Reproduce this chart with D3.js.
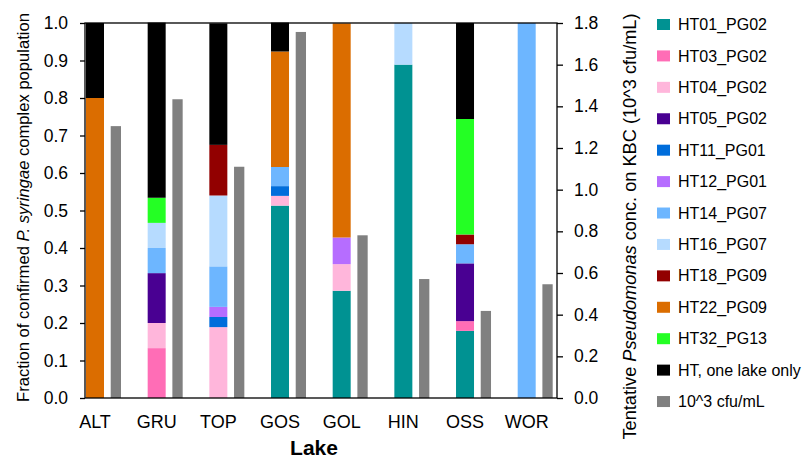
<!DOCTYPE html>
<html><head><meta charset="utf-8">
<script src="https://cdn.jsdelivr.net/npm/d3@7"></script>
<style>
html,body{margin:0;padding:0;background:#fff;}
svg{display:block;font-family:"Liberation Sans",Arial,sans-serif;}
</style></head>
<body>
<svg id="chart" width="806" height="459"></svg>
<script>
// ---- data ----
const lakes = ["ALT","GRU","TOP","GOS","GOL","HIN","OSS","WOR"];
const seriesNames = ["HT01_PG02","HT03_PG02","HT04_PG02","HT05_PG02","HT11_PG01","HT12_PG01","HT14_PG07","HT16_PG07","HT18_PG09","HT22_PG09","HT32_PG13","HT, one lake only"];
const seriesColors = ["#009292","#ff6db6","#ffb6db","#490092","#006ddb","#b66dff","#6db6ff","#b6dbff","#920000","#db6d00","#24ff24","#000000"];
const HT01_PG02 = [0, 0, 0, 0.513, 0.286, 0.889, 0.179, 0];
const HT03_PG02 = [0, 0.133, 0, 0, 0, 0, 0.026, 0];
const HT04_PG02 = [0, 0.067, 0.189, 0.026, 0.071, 0, 0, 0];
const HT05_PG02 = [0, 0.133, 0, 0, 0, 0, 0.154, 0];
const HT11_PG01 = [0, 0, 0.027, 0.026, 0, 0, 0, 0];
const HT12_PG01 = [0, 0, 0.027, 0, 0.071, 0, 0, 0];
const HT14_PG07 = [0, 0.067, 0.108, 0.051, 0, 0, 0.051, 1.0];
const HT16_PG07 = [0, 0.067, 0.189, 0, 0, 0.111, 0, 0];
const HT18_PG09 = [0, 0, 0.135, 0, 0, 0, 0.026, 0];
const HT22_PG09 = [0.8, 0, 0, 0.308, 0.571, 0, 0, 0];
const HT32_PG13 = [0, 0.067, 0, 0, 0, 0, 0.308, 0];
const HT_oneLake = [0.2, 0.467, 0.324, 0.077, 0, 0, 0.256, 0];
const cfu = [1.305, 1.434, 1.11, 1.757, 0.781, 0.571, 0.418, 0.546];
const cfuLabel = "10^3 cfu/mL";
const cfuColor = "#808080";
const leftTicks = [0,0.1,0.2,0.3,0.4,0.5,0.6,0.7,0.8,0.9,1.0];
const rightTicks = [0,0.2,0.4,0.6,0.8,1.0,1.2,1.4,1.6,1.8];

const seriesValues = [HT01_PG02,HT03_PG02,HT04_PG02,HT05_PG02,HT11_PG01,HT12_PG01,HT14_PG07,HT16_PG07,HT18_PG09,HT22_PG09,HT32_PG13,HT_oneLake];

// ---- layout ----
const svg = d3.select("#chart");
const plot = {left:85, right:557, top:23, bottom:398};
const step = 61.67;
const x = d3.scaleBand().domain(lakes).range([86, 86 + step*lakes.length]).padding(0);
const stackW = 18, grayOff = 24.7, grayW = 10.3;
const y = d3.scaleLinear().domain([0,1]).range([plot.bottom, plot.top]);
const y2 = d3.scaleLinear().domain([0,1.8]).range([plot.bottom, plot.top]);

const table = lakes.map((l,i)=>{ const o={lake:l}; seriesNames.forEach((s,j)=>o[s]=seriesValues[j][i]); return o; });
const stacked = d3.stack().keys(seriesNames)(table);

const gBars = svg.append("g");
stacked.forEach((layer,j)=>{
  gBars.selectAll(null).data(layer.filter(d=>d[1]-d[0]>0)).enter().append("rect")
    .attr("x", d=>x(d.data.lake))
    .attr("width", stackW)
    .attr("y", d=>y(d[1]))
    .attr("height", d=>y(d[0])-y(d[1]))
    .attr("fill", seriesColors[j]);
});
gBars.selectAll(null).data(lakes).enter().append("rect")
  .attr("x", d=>x(d)+grayOff)
  .attr("width", grayW)
  .attr("y", (d,i)=>y2(cfu[i]))
  .attr("height", (d,i)=>y2(0)-y2(cfu[i]))
  .attr("fill", cfuColor);

// plot border
svg.append("rect").attr("x",plot.left).attr("y",plot.top)
  .attr("width",plot.right-plot.left).attr("height",plot.bottom-plot.top)
  .attr("fill","none").attr("stroke","#000").attr("stroke-width",1.3);

// left axis
const la = svg.append("g").attr("transform",`translate(${plot.left},0)`)
  .call(d3.axisLeft(y).tickValues(leftTicks).tickFormat(d3.format(".1f")).tickSize(5).tickPadding(12));
la.select(".domain").remove();
la.selectAll("line").attr("stroke","#000").attr("stroke-width",1.3);
la.selectAll("text").attr("font-size","17.5px").attr("fill","#000").attr("font-family","Liberation Sans, Arial, sans-serif");

// right axis
const ra = svg.append("g").attr("transform",`translate(${plot.right},0)`)
  .call(d3.axisRight(y2).tickValues(rightTicks).tickFormat(d3.format(".1f")).tickSize(6).tickPadding(11));
ra.select(".domain").remove();
ra.selectAll("line").attr("stroke","#000").attr("stroke-width",1.3);
ra.selectAll("text").attr("font-size","17.5px").attr("fill","#000").attr("font-family","Liberation Sans, Arial, sans-serif");

// category labels
svg.append("g").selectAll("text").data(lakes).enter().append("text")
  .attr("x", d=>x(d)+stackW/2).attr("y", 427.5)
  .attr("text-anchor","middle").attr("font-size","18px").text(d=>d);

// x title
svg.append("text").attr("x",314).attr("y",455).attr("text-anchor","middle")
  .attr("font-size","21px").attr("font-weight","bold").text("Lake");

// left title
const lt = svg.append("text").attr("transform","translate(29,207.5) rotate(-90)")
  .attr("text-anchor","middle").attr("font-size","16.6px");
lt.append("tspan").text("Fraction of confirmed ");
lt.append("tspan").attr("font-style","italic").text("P. syringae");
lt.append("tspan").text(" complex population");

// right title
const rt = svg.append("text").attr("transform","translate(636,226.5) rotate(-90)")
  .attr("text-anchor","middle").attr("font-size","18.2px");
rt.append("tspan").text("Tentative ");
rt.append("tspan").attr("font-style","italic").text("Pseudomonas");
rt.append("tspan").text(" conc. on KBC (10^3 cfu/mL)");

// legend
const legItems = seriesNames.map((s,j)=>({name:s,color:seriesColors[j]})).concat([{name:cfuLabel,color:cfuColor}]);
const leg = svg.append("g");
const lg = leg.selectAll("g").data(legItems).enter().append("g")
  .attr("transform",(d,i)=>`translate(657,${24.5 + i*31.42})`);
lg.append("rect").attr("x",0).attr("y",-5.5).attr("width",13).attr("height",11).attr("fill",d=>d.color);
lg.append("text").attr("x",21).attr("y",0).attr("dy","0.35em").attr("font-size","16px").text(d=>d.name);
</script>
</body></html>
